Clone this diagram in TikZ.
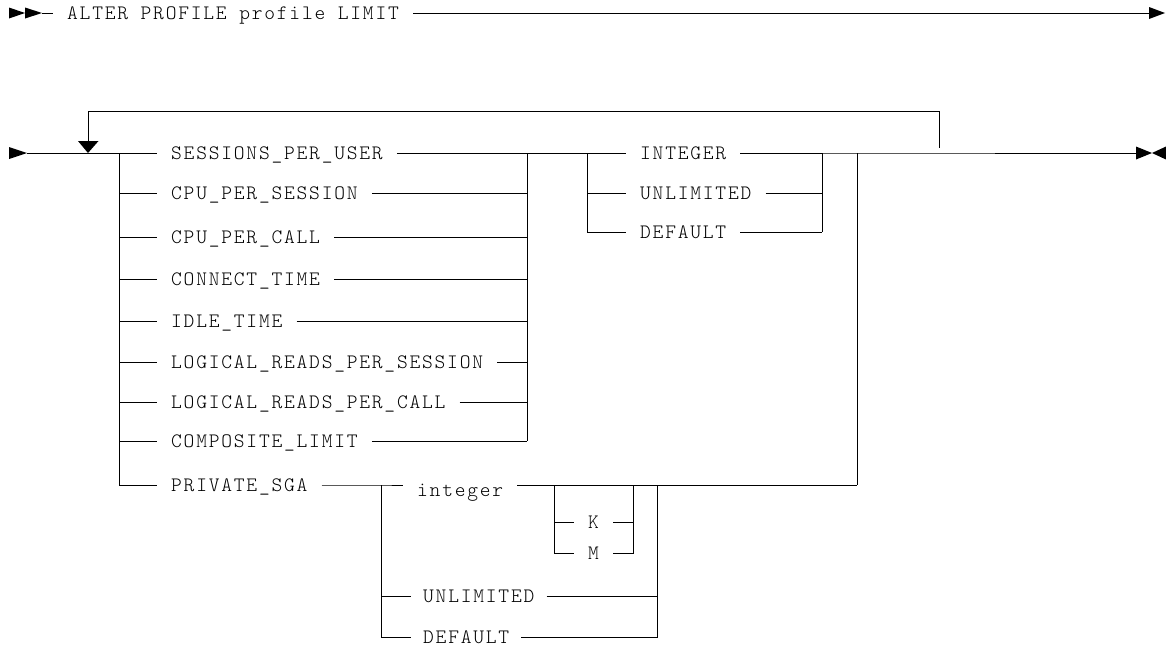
\documentclass[tikz,border=0pt]{standalone}
\usepackage{fontspec}
\newfontfamily\rrfont[LetterSpace=8.7]{Latin Modern Mono Light}
\begin{document}
\begin{tikzpicture}[x=1pt,y=-1pt,
  rail/.style={line width=1pt},
  lbl/.style={font={\rrfont\fontsize{20.5pt}{24pt}\selectfont}, inner xsep=14pt, inner ysep=0pt,
              text height=12.4pt, text depth=0pt, anchor=west},
  tipfill/.style={fill=black}]
\useasboundingbox (0,0) rectangle (1166,648);

% ---------- row 1 ----------
\fill[tipfill] (9,7.5) -- (25,13) -- (9,18.5) -- cycle;
\fill[tipfill] (25,7.5) -- (42,13) -- (25,18.5) -- cycle;
\coordinate (r1s) at (42,13);
\coordinate (r1e) at (1149,13);
\node[lbl] (alter) at (53,13) {ALTER PROFILE profile LIMIT};
\draw[rail] (r1s) -- (alter.west);
\draw[rail] (alter.east) -- (r1e);
\fill[tipfill] (1149,7) -- (1165,13) -- (1149,19) -- cycle;

% ---------- row 2: left list ----------
\coordinate (r2s) at (27,153);
\fill[tipfill] (9,147) -- (27,153) -- (9,159) -- cycle;

\foreach \i/\txt/\y in {1/SESSIONS\_PER\_USER/153, 2/CPU\_PER\_SESSION/193, 3/CPU\_PER\_CALL/237,
    4/CONNECT\_TIME/279, 5/IDLE\_TIME/321, 6/LOGICAL\_READS\_PER\_SESSION/362,
    7/LOGICAL\_READS\_PER\_CALL/402, 8/COMPOSITE\_LIMIT/441, 9/PRIVATE\_SGA/485} {
  \coordinate (L\i) at (119,\y);
  \coordinate (R\i) at (527,\y);
  \node[lbl] (n\i) at (157,\y) {\txt};
  \draw[rail] (L\i) -- (n\i.west);
}
\foreach \i in {1,...,8} { \draw[rail] (n\i.east) -- (R\i); }
\draw[rail] (L1) -- (L9);
\draw[rail] (R1) -- (R8);
\draw[rail] (r2s) -- (L1);

% ---------- second choice ----------
\coordinate (C1) at (587,153);
\coordinate (C3) at (587,232);
\coordinate (D1) at (822,153);
\coordinate (D3) at (822,232);
\foreach \i/\txt/\y in {1/INTEGER/153, 2/UNLIMITED/193, 3/DEFAULT/232} {
  \coordinate (CL\i) at (587,\y);
  \coordinate (DR\i) at (822,\y);
  \node[lbl] (c\i) at (626,\y) {\txt};
  \draw[rail] (CL\i) -- (c\i.west);
  \draw[rail] (c\i.east) -- (DR\i);
}
\draw[rail] (R1) -- (C1);
\draw[rail] (C1) -- (C3);
\draw[rail] (D1) -- (D3);

% ---------- main line to the end ----------
\coordinate (O1) at (857,153);
\coordinate (O9) at (857,485);
\coordinate (r2e) at (1136,153);
\draw[rail] (D1) -- (O1) -- (r2e);
\draw[rail] (O1) -- (O9);
\fill[tipfill] (1136,146.5) -- (1152,153) -- (1136,159.5) -- cycle;
\fill[tipfill] (1166,146.5) -- (1152,153) -- (1166,159.5) -- cycle;

% ---------- loop ----------
\coordinate (lp1) at (88,141);
\coordinate (lp2) at (88,111);
\coordinate (lp3) at (939,111);
\coordinate (lp4) at (939,148);
\draw[rail] (lp1) -- (lp2) -- (lp3) -- (lp4);
\fill[tipfill] (78,141) -- (98.5,141) -- (88,153) -- cycle;

% ---------- PRIVATE_SGA ----------
\coordinate (B1) at (381,485);
\coordinate (B2) at (381,596);
\coordinate (B3) at (381,637);
\coordinate (E1) at (657,485);
\coordinate (E2) at (657,596);
\coordinate (E3) at (657,637);
\node[lbl, text height=22pt] (intg) at (403,485) {integer};
\draw[rail] (n9.east) -- (B1) -- (intg.west);
\draw[rail] (intg.east) -- (O9);

% K / M
\coordinate (km1) at (554,485);
\coordinate (km2) at (633,485);
\coordinate (kL) at (554,522);
\coordinate (kR) at (633,522);
\coordinate (mL) at (554,553);
\coordinate (mR) at (633,553);
\node[lbl] (k) at (574,522) {K};
\node[lbl] (m) at (574,553) {M};
\draw[rail] (km1) -- (mL) -- (m.west);
\draw[rail] (kL) -- (k.west);
\draw[rail] (k.east) -- (kR);
\draw[rail] (m.east) -- (mR) -- (km2);

% UNLIMITED / DEFAULT
\node[lbl, inner xsep=12pt] (ul) at (411,596) {UNLIMITED};
\node[lbl, inner xsep=12pt] (df) at (411,637) {DEFAULT};
\draw[rail] (B1) -- (B3) -- (df.west);
\draw[rail] (B2) -- (ul.west);
\draw[rail] (ul.east) -- (E2);
\draw[rail] (df.east) -- (E3) -- (E1);
\end{tikzpicture}
\end{document}
